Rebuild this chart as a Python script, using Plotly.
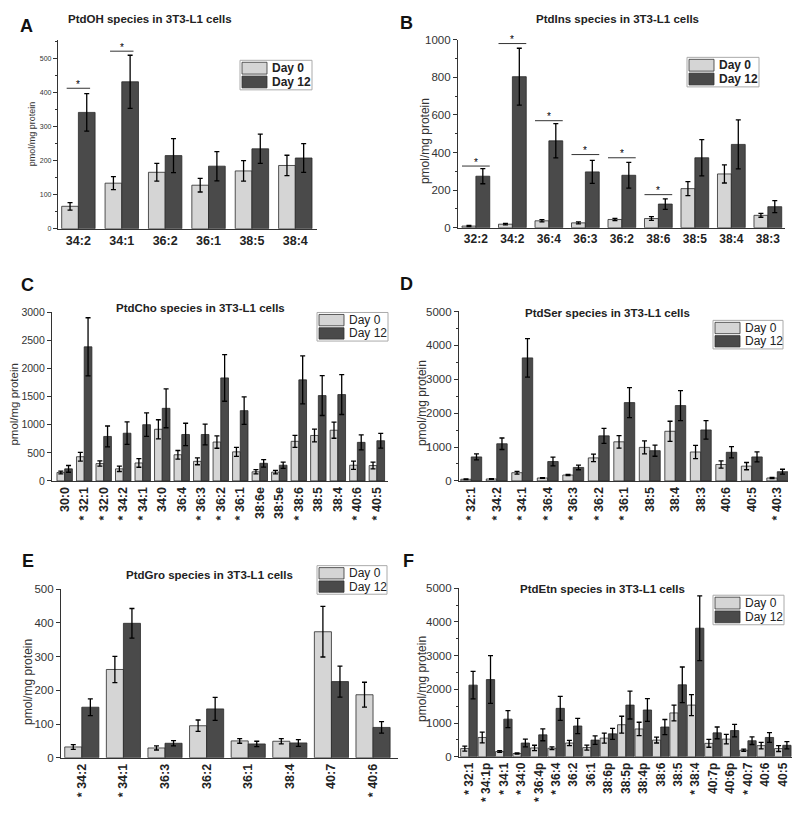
import plotly.graph_objects as go

# ---- data (pmol/mg protein) ----
a_cats = ["34:2", "34:1", "36:2", "36:1", "38:5", "38:4"]
a_d0 = [66, 134, 166, 128, 170, 186]
a_d0_err = [11, 19, 26, 20, 30, 30]
a_d12 = [342, 432, 215, 184, 235, 208]
a_d12_err = [55, 78, 50, 43, 43, 42]
a_sig_idx = [0, 1]
a_sig_y = [413, 522]

b_cats = ["32:2", "34:2", "36:4", "36:3", "36:2", "38:6", "38:5", "38:4", "38:3"]
b_d0 = [9, 19, 37, 26, 44, 49, 208, 286, 66]
b_d0_err = [3, 4, 6, 5, 6, 10, 37, 48, 10]
b_d12 = [274, 803, 462, 297, 279, 126, 372, 443, 112]
b_d12_err = [40, 151, 91, 61, 68, 28, 96, 130, 32]
b_sig_idx = [0, 1, 2, 3, 4, 5]
b_sig_y = [328, 979, 569, 389, 372, 176]

c_cats = ["30:0", "* 32:1", "* 32:0", "* 34:2", "* 34:1", "34:0", "36:4", "* 36:3",
          "* 36:2", "* 36:1", "38:6e", "38:5e", "* 38:6", "38:5", "38:4", "* 40:6", "* 40:5"]
c_d0 = [151, 431, 309, 215, 320, 920, 466, 349, 693, 518, 163, 157, 705, 810, 903, 280, 274]
c_d0_err = [25, 79, 47, 47, 76, 170, 76, 61, 111, 81, 38, 32, 108, 114, 143, 73, 61]
c_d12 = [215, 2388, 792, 850, 1002, 1293, 827, 827, 1835, 1252, 314, 280, 1800, 1520, 1538, 687, 716]
c_d12_err = [60, 518, 186, 200, 210, 346, 200, 186, 416, 245, 67, 55, 428, 355, 355, 134, 131]

d_cats = ["* 32:1", "* 34:2", "* 34:1", "* 36:4", "* 36:3", "* 36:2", "* 36:1",
          "38:5", "38:4", "38:3", "40:6", "40:5", "* 40:3"]
d_d0 = [49, 58, 243, 87, 175, 680, 1155, 990, 1466, 854, 485, 437, 87]
d_d0_err = [10, 10, 40, 10, 20, 112, 184, 190, 296, 194, 107, 107, 15]
d_d12 = [709, 1097, 3631, 573, 398, 1330, 2311, 893, 2223, 1505, 845, 709, 272]
d_d12_err = [90, 170, 568, 131, 68, 223, 442, 165, 442, 272, 165, 146, 73]

e_cats = ["* 34:2", "* 34:1", "36:3", "36:2", "36:1", "38:4", "40:7", "* 40:6"]
e_d0 = [32, 262, 29, 95, 50, 49, 374, 187]
e_d0_err = [7, 39, 6, 17, 7, 8, 75, 37]
e_d12 = [150, 399, 43, 145, 41, 44, 226, 90]
e_d12_err = [25, 44, 8, 34, 8, 10, 46, 17]

f_cats = ["* 32:1", "* 34:1p", "* 34:1", "* 34:0", "* 36:4p", "* 36:4", "36:2", "36:1",
          "38:6p", "38:5p", "38:4p", "38:6", "38:5", "* 38:4", "40:7p", "40:6p",
          "* 40:7", "40:6", "40:5"]
f_d0 = [243, 573, 155, 97, 262, 252, 408, 272, 553, 951, 825, 495, 1301, 1534, 398, 524, 194, 330, 243]
f_d0_err = [75, 160, 25, 20, 80, 40, 78, 73, 146, 252, 200, 87, 233, 311, 116, 141, 30, 97, 87]
f_d12 = [2126, 2291, 1117, 408, 650, 1437, 913, 495, 680, 1534, 1388, 883, 2136, 3816, 709, 777, 476, 573, 340]
f_d12_err = [408, 709, 252, 117, 175, 355, 228, 126, 165, 413, 335, 223, 529, 961, 175, 184, 112, 146, 107]

series_names = ["Day 0", "Day 12"]

# page has an 8px body margin, so the figure is drawn 16px smaller
OFF = 8
FW, FH = 800 - 2 * OFF, 821 - 2 * OFF
FONT = "Arial, Liberation Sans, sans-serif"
C0 = "#d5d5d5"
C12 = "#4a4a4a"


def px(x):
    return min(1.0, max(0.0, (x - OFF) / FW))


def py(y):
    return min(1.0, max(0.0, 1 - (y - OFF) / FH))


panels = [
    dict(letter="A", title="PtdOH species in 3T3-L1 cells", cats=a_cats, d0=a_d0, e0=a_d0_err,
         d12=a_d12, e12=a_d12_err, box=(58, 317, 34, 226), xr=(-0.47, 5.5), hw=0.385,
         yr=556, dt=100, mdt=50, ytf=7, xtf=12.5, xrot=0,
         ytl=(32, 130, 9), leg=(240, 55, 72, 30), legbold=True,
         tpos=(150, 13), lpos=(26, 20)),
    dict(letter="B", title="PtdIns species in 3T3-L1 cells", cats=b_cats, d0=b_d0, e0=b_d0_err,
         d12=b_d12, e12=b_d12_err, box=(458, 785, 34, 225), xr=(-0.49, 8.47), hw=0.38,
         yr=1000, dt=200, mdt=100, ytf=11.5, xtf=12, xrot=0,
         ytl=(425, 137, 12), leg=(687, 52, 72, 30), legbold=True,
         tpos=(617, 13), lpos=(406, 17)),
    dict(letter="C", title="PtdCho species in 3T3-L1 cells", cats=c_cats, d0=c_d0, e0=c_d0_err,
         d12=c_d12, e12=c_d12_err, box=(52, 388, 311, 482), xr=(-0.65, 16.57), hw=0.395,
         yr=3000, dt=500, mdt=500, ytf=10.5, xtf=12.5, xrot=-90,
         ytl=(14.5, 405, 11.5), leg=(317, 311, 71, 29), legbold=False,
         tpos=(200, 306), lpos=(27, 283)),
    dict(letter="D", title="PtdSer species in 3T3-L1 cells", cats=d_cats, d0=d_d0, e0=d_d0_err,
         d12=d_d12, e12=d_d12_err, box=(459, 788, 310, 482), xr=(-0.48, 12.42), hw=0.41,
         yr=5000, dt=1000, mdt=500, ytf=11.5, xtf=12.5, xrot=-90,
         ytl=(422, 403, 12), leg=(713, 319, 70, 29), legbold=False,
         tpos=(607, 312), lpos=(406, 282)),
    dict(letter="E", title="PtdGro species in 3T3-L1 cells", cats=e_cats, d0=e_d0, e0=e_d0_err,
         d12=e_d12, e12=e_d12_err, box=(61, 398, 592, 763), xr=(-0.5, 7.6), hw=0.41,
         yr=500, dt=100, mdt=100, ytf=11.5, xtf=12.5, xrot=-90,
         ytl=(28, 686, 12), leg=(317, 568, 70, 29), legbold=False,
         tpos=(210, 577), lpos=(28, 563)),
    dict(letter="F", title="PtdEtn species in 3T3-L1 cells", cats=f_cats, d0=f_d0, e0=f_d0_err,
         d12=f_d12, e12=f_d12_err, box=(459, 792, 591, 762), xr=(-0.57, 18.53), hw=0.475,
         yr=5000, dt=1000, mdt=500, ytf=11.5, xtf=12, xrot=-90,
         ytl=(422, 683, 12), leg=(713, 598, 71, 30), legbold=False,
         tpos=(602, 592), lpos=(408, 563)),
]

fig = go.Figure()
layout = {}
annotations = []
shapes = []

for k, p in enumerate(panels):
    n = k + 1
    sfx = "" if n == 1 else str(n)
    xa, ya = "x" + sfx, "y" + sfx
    idx = list(range(len(p["cats"])))
    x0, x1, top, bot = p["box"]
    hw = p["hw"]

    for vals, errs, col, off in [(p["d0"], p["e0"], C0, -hw), (p["d12"], p["e12"], C12, 0)]:
        fig.add_trace(go.Bar(
            x=idx, y=vals, xaxis=xa, yaxis=ya, width=hw, offset=off, showlegend=False,
            marker=dict(color=col, line=dict(color="#2a2a2a", width=0.8)),
            error_y=dict(type="data", array=errs, color="black", thickness=1.3, width=2.5),
        ))

    layout["xaxis" + sfx] = dict(
        domain=[px(x0), px(x1)], anchor=ya, range=list(p["xr"]),
        tickvals=idx, ticktext=p["cats"], tickangle=p["xrot"],
        tickfont=dict(size=p["xtf"], weight="bold", color="#222"),
        showline=True, linecolor="#333", linewidth=1.2,
        ticks="", showgrid=False, zeroline=False,
    )
    layout["yaxis" + sfx] = dict(
        domain=[py(bot), py(top)], anchor=xa, range=[0, p["yr"]],
        dtick=p["dt"], tickfont=dict(size=p["ytf"], color="#333"),
        showline=True, linecolor="#333", linewidth=1.2,
        ticks="outside", ticklen=4, tickcolor="#333",
        minor=dict(dtick=p["mdt"], ticks="outside", ticklen=2, tickcolor="#333"),
        showgrid=False, zeroline=False,
    )

    # y axis title
    tx, ty, ts = p["ytl"]
    annotations.append(dict(
        text="pmol/mg protein", x=px(tx), y=py(ty), xref="paper", yref="paper",
        textangle=-90, showarrow=False, font=dict(size=ts, color="#333"),
        xanchor="center", yanchor="middle",
    ))
    # panel title and letter
    annotations.append(dict(
        text="<b>%s</b>" % p["title"], x=px(p["tpos"][0]), y=py(p["tpos"][1]),
        xref="paper", yref="paper", showarrow=False, font=dict(size=11.5, color="#222"),
        xanchor="center", yanchor="middle",
    ))
    annotations.append(dict(
        text="<b>%s</b>" % p["letter"], x=px(p["lpos"][0]), y=py(p["lpos"][1]),
        xref="paper", yref="paper", showarrow=False, font=dict(size=18, color="#111"),
        xanchor="center", yanchor="middle",
    ))

    # legend box drawn by hand (Origin-style wide swatches)
    L, T, LW, LH = p["leg"]
    shapes.append(dict(type="rect", xref="paper", yref="paper",
                       x0=px(L), x1=px(L + LW), y0=py(T), y1=py(T + LH),
                       line=dict(color="#aaaaaa", width=1), fillcolor="white", layer="above"))
    half = LH / 2
    for j, (name, col) in enumerate(zip(series_names, [C0, C12])):
        sy0 = T + 2 + j * (half - 1)
        shapes.append(dict(type="rect", xref="paper", yref="paper",
                           x0=px(L + 2), x1=px(L + 27), y0=py(sy0), y1=py(sy0 + half - 3),
                           line=dict(color="#333", width=0.8), fillcolor=col, layer="above"))
        annotations.append(dict(
            text=("<b>%s</b>" % name) if p["legbold"] else name,
            x=px(L + 30), y=py(sy0 + (half - 3) / 2), xref="paper", yref="paper",
            showarrow=False, xanchor="left", yanchor="middle",
            font=dict(size=12, color="#222"),
        ))

# significance lines and stars for A and B
for sfx, sidx, sy, half in [("", a_sig_idx, a_sig_y, 0.27), ("2", b_sig_idx, b_sig_y, 0.38)]:
    for i, yv in zip(sidx, sy):
        shapes.append(dict(type="line", xref="x" + sfx, yref="y" + sfx,
                           x0=i - half, x1=i + half, y0=yv, y1=yv,
                           line=dict(color="#333", width=1)))
        annotations.append(dict(text="*", x=i, y=yv, xref="x" + sfx, yref="y" + sfx,
                                showarrow=False, yshift=4, font=dict(size=10, color="black")))

fig.update_layout(
    width=FW, height=FH,
    margin=dict(l=0, r=0, t=0, b=0),
    paper_bgcolor="white", plot_bgcolor="white",
    font=dict(family=FONT, color="#222"),
    barmode="overlay", showlegend=False,
    annotations=annotations, shapes=shapes,
    **layout,
)

fig.write_html("out.html")
